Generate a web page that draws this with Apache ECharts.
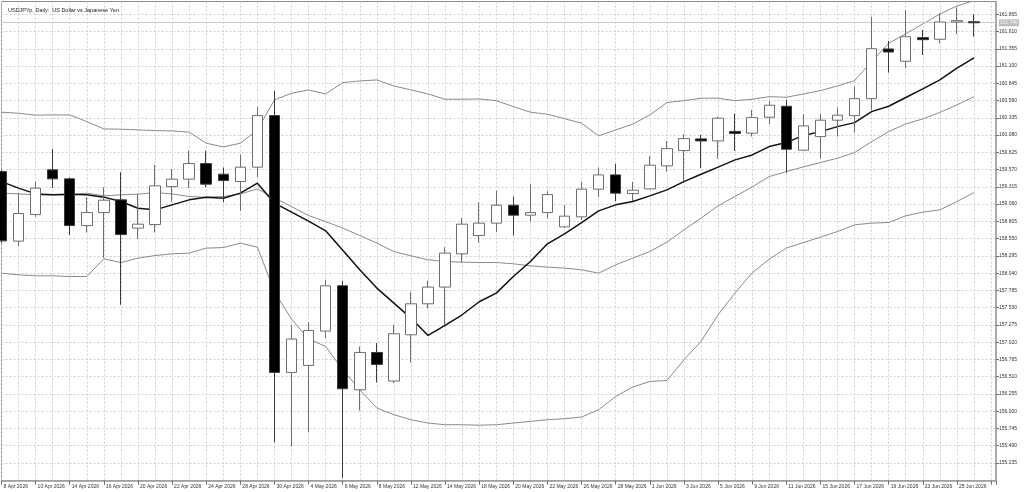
<!DOCTYPE html>
<html><head><meta charset="utf-8">
<script src="https://cdn.jsdelivr.net/npm/echarts@6/dist/echarts.min.js"></script>
<style>html,body{margin:0;padding:0;background:#fff}#c{width:1024px;height:492px}</style>
</head><body><div id="c"></div>
<script>
const chartTitle = 'USDJPYp, Daily:  US Dollar vs Japanese Yen';
const dates = ['8 Apr 2026','9 Apr 2026','10 Apr 2026','13 Apr 2026','14 Apr 2026','15 Apr 2026','16 Apr 2026','17 Apr 2026','20 Apr 2026','21 Apr 2026','22 Apr 2026','23 Apr 2026','24 Apr 2026','27 Apr 2026','28 Apr 2026','29 Apr 2026','30 Apr 2026','1 May 2026','4 May 2026','5 May 2026','6 May 2026','7 May 2026','8 May 2026','11 May 2026','12 May 2026','13 May 2026','14 May 2026','15 May 2026','18 May 2026','19 May 2026','20 May 2026','21 May 2026','22 May 2026','25 May 2026','26 May 2026','27 May 2026','28 May 2026','29 May 2026','1 Jun 2026','2 Jun 2026','3 Jun 2026','4 Jun 2026','5 Jun 2026','8 Jun 2026','9 Jun 2026','10 Jun 2026','11 Jun 2026','12 Jun 2026','15 Jun 2026','16 Jun 2026','17 Jun 2026','18 Jun 2026','19 Jun 2026','22 Jun 2026','23 Jun 2026','24 Jun 2026','25 Jun 2026','26 Jun 2026'];
const open  = [159.541,158.513,158.906,159.566,159.433,158.743,158.935,159.123,158.705,158.758,159.319,159.429,159.659,159.502,159.393,159.606,160.368,156.573,156.676,157.184,157.853,156.317,156.868,156.446,157.129,157.587,157.834,158.325,158.596,158.779,159.044,158.897,158.935,158.724,158.872,159.281,159.492,159.216,159.285,159.625,159.851,160.024,159.994,160.134,160.108,160.344,160.506,159.857,160.058,160.300,160.368,160.619,161.353,161.171,161.520,161.496,161.751,161.755];
const close = [158.517,158.921,159.296,159.433,158.743,158.935,159.118,158.610,158.764,159.330,159.429,159.659,159.355,159.408,159.606,160.368,156.573,157.066,157.193,157.853,156.332,156.868,156.691,157.144,157.587,157.834,158.336,158.764,158.779,159.044,158.897,158.935,159.201,158.882,159.281,159.492,159.222,159.266,159.635,159.880,160.028,159.994,160.329,160.105,160.338,160.521,159.871,160.216,160.300,160.374,160.619,161.357,161.308,161.534,161.490,161.751,161.771,161.740];
const low   = [158.488,158.443,158.872,159.300,158.601,158.640,158.262,157.572,158.543,158.640,159.093,159.296,159.310,159.089,158.960,159.458,155.539,155.480,155.687,157.081,155.013,156.011,156.425,156.416,156.720,157.518,157.277,158.197,158.492,158.646,158.596,158.802,158.847,158.709,158.828,159.167,159.104,159.104,159.278,159.541,159.399,159.591,159.733,159.846,160.058,160.241,159.526,159.846,159.733,160.058,160.117,160.452,161.003,161.072,161.264,161.437,161.574,161.534];
const high  = [159.566,159.226,159.393,159.876,159.455,159.163,159.310,159.532,159.207,159.640,159.581,159.846,159.846,159.600,159.792,160.492,160.732,157.277,157.311,157.941,157.927,156.957,157.007,157.277,157.764,157.931,158.424,158.853,159.083,159.256,159.172,159.355,159.251,159.044,159.393,159.600,159.654,159.389,159.773,159.994,160.093,160.083,160.353,160.397,160.452,160.585,160.600,160.388,160.397,160.486,160.796,161.830,161.471,161.929,161.633,161.880,161.968,161.865];
const bbUpper  = [160.418,160.403,160.374,160.378,160.378,160.279,160.171,160.167,160.157,160.146,160.142,160.123,159.960,159.905,159.960,160.157,160.600,160.698,160.747,160.688,160.855,160.880,160.895,160.806,160.747,160.688,160.610,160.610,160.614,160.589,160.501,160.418,160.388,160.323,160.255,160.068,160.157,160.241,160.378,160.560,160.589,160.625,160.625,160.589,160.610,160.648,160.639,160.688,160.737,160.806,160.885,161.165,161.437,161.577,161.722,161.869,161.988,162.066];
const bbMiddle = [159.222,159.211,159.197,159.197,159.197,159.222,159.182,159.197,159.207,159.231,159.211,159.172,159.163,159.172,159.211,159.285,159.152,159.022,158.891,158.802,158.705,158.596,158.483,158.359,158.296,158.237,158.212,158.203,158.197,158.197,158.178,158.148,158.129,158.114,158.089,158.040,158.163,158.262,158.359,158.498,158.680,158.853,159.034,159.174,159.315,159.467,159.541,159.610,159.674,159.739,159.821,159.984,160.131,160.245,160.319,160.415,160.526,160.648];
const bbLower  = [158.040,158.015,158.001,158.001,157.990,157.990,158.252,158.197,158.262,158.300,158.325,158.336,158.410,158.418,158.483,158.424,157.764,157.361,157.066,156.957,156.612,156.317,156.047,155.948,155.874,155.825,155.800,155.800,155.793,155.800,155.825,155.849,155.874,155.889,155.914,156.022,156.218,156.357,156.440,156.454,156.760,157.030,157.425,157.749,158.045,158.247,158.410,158.492,158.572,158.655,158.754,158.779,158.788,158.887,158.941,158.975,159.098,159.231];
const maLine   = [159.393,159.296,159.211,159.197,159.207,159.197,159.163,159.098,159.000,158.975,159.049,159.123,159.163,159.148,159.222,159.369,159.074,158.941,158.808,158.665,158.377,158.089,157.819,157.597,157.376,157.119,157.267,157.425,157.617,157.745,157.990,158.212,158.473,158.621,158.788,158.960,159.049,159.098,159.182,159.271,159.393,159.502,159.606,159.714,159.787,159.910,159.969,160.075,160.131,160.205,160.264,160.427,160.506,160.636,160.762,160.895,161.068,161.220];
const priceTicks = [155.235,155.490,155.745,156.000,156.255,156.510,156.765,157.020,157.275,157.530,157.785,158.040,158.295,158.550,158.805,159.060,159.315,159.570,159.825,160.080,160.335,160.590,160.845,161.100,161.355,161.610,161.865];
const lastPrice = 161.740;

const candleData = dates.map((d, i) => [i, open[i], close[i], low[i], high[i]]);
const toXY = arr => arr.map((v, i) => [i, v]);
const FONT = 'Liberation Sans';
const GRIDC = '#cfcfcf';

const chart = echarts.init(document.getElementById('c'), null, {renderer: 'canvas'});
chart.setOption({
  animation: false,
  backgroundColor: '#ffffff',
  title: {text: chartTitle, left: 3, top: 2, textStyle: {fontSize: 5.5, fontWeight: 'normal', color: '#222', fontFamily: FONT}},
  grid: {left: 1.5, right: 28, top: 1.5, bottom: 11.3, show: true, borderColor: '#8c8c8c', borderWidth: 1},
  xAxis: {
    type: 'value', min: 0, max: 58.29, interval: 2,
    axisLine: {show: true, onZero: false, lineStyle: {color: '#a0a0a0', width: 1.5}},
    axisTick: {show: true, length: 4, lineStyle: {color: '#707070'}},
    axisLabel: {show: true, align: 'left', margin: 3, padding: [0, 0, 0, 2], fontSize: 5, color: '#333', fontFamily: FONT,
      showMinLabel: true, showMaxLabel: true,
      formatter: v => (Number.isInteger(v) && dates[v]) ? dates[v] : ''},
    splitLine: {show: true, lineStyle: {color: GRIDC, type: [2, 2], width: 1}},
    minorTick: {show: false, splitNumber: 2},
    minorSplitLine: {show: true, lineStyle: {color: GRIDC, type: [2, 2], width: 1}}
  },
  yAxis: {
    type: 'value', position: 'right', min: 154.973, max: 162.054,
    axisLine: {show: true, onZero: false, lineStyle: {color: '#a0a0a0', width: 1.5}},
    axisTick: {show: true, length: 3, customValues: priceTicks, lineStyle: {color: '#707070'}},
    axisLabel: {show: true, margin: 3, fontSize: 5, color: '#333', fontFamily: FONT, customValues: priceTicks,
      formatter: v => Number(v).toFixed(3)},
    splitLine: {show: true, lineStyle: {color: GRIDC, type: [2, 2], width: 1}}
  },
  series: [
    {type: 'line', name: 'upper', data: toXY(bbUpper), symbol: 'none', silent: true, z: 2, lineStyle: {color: '#8a8a8a', width: 1}},
    {type: 'line', name: 'middle', data: toXY(bbMiddle), symbol: 'none', silent: true, z: 2, lineStyle: {color: '#8a8a8a', width: 1}},
    {type: 'line', name: 'lower', data: toXY(bbLower), symbol: 'none', silent: true, z: 2, lineStyle: {color: '#8a8a8a', width: 1}},
    {type: 'line', name: 'ma', data: toXY(maLine), symbol: 'none', silent: true, z: 3, lineStyle: {color: '#111111', width: 1.5}},
    {type: 'candlestick', name: 'USDJPYp', data: candleData, encode: {x: 0, y: [1, 2, 3, 4]}, barWidth: 11, z: 5, silent: true,
      itemStyle: {color: '#ffffff', color0: '#000000', borderColor: '#6e6e6e', borderColor0: '#3a3a3a', borderWidth: 1},
      markLine: {silent: true, symbol: 'none', animation: false,
        data: [{yAxis: lastPrice}],
        lineStyle: {color: '#c8c8c8', type: 'solid', width: 1},
        label: {show: true, position: 'end', distance: 3, formatter: lastPrice.toFixed(3), backgroundColor: '#bdbdbd',
          color: '#f4f4f4', fontSize: 5, padding: [1, 1], fontFamily: FONT}
      }
    }
  ]
});
</script></body></html>
